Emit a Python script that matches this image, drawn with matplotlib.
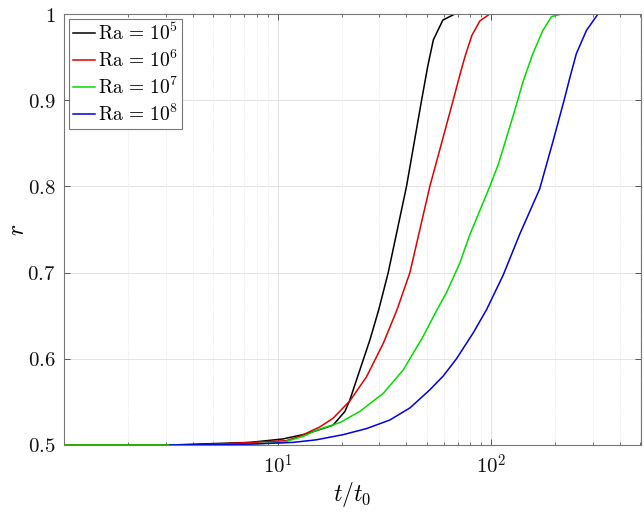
import matplotlib
matplotlib.use("Agg")
import matplotlib.pyplot as plt
import numpy as np
from matplotlib.ticker import LogLocator, NullFormatter, FixedLocator

plt.rcParams['mathtext.fontset'] = 'cm'
plt.rcParams['font.family'] = 'serif'

# values (t/t0, r)
t_ra5 = [1.0, 3.13, 7.43, 10.6, 13.7, 18.2, 20.7, 21.8, 24.3, 27.1, 29.8, 33.0,
         40.2, 47.3, 50.6, 53.7, 59.5, 67.7, 100.0]
r_ra5 = [0.500, 0.500, 0.503, 0.507, 0.513, 0.523, 0.539, 0.552, 0.587, 0.622, 0.657, 0.700,
         0.800, 0.900, 0.940, 0.970, 0.993, 1.000, 1.000]

t_ra6 = [1.0, 4.33, 11.0, 12.7, 15.8, 18.2, 21.8, 26.1, 31.3, 36.3, 41.7, 51.7,
         66.5, 70.7, 75.4, 81.3, 88.7, 98.7, 313.0]
r_ra6 = [0.500, 0.500, 0.505, 0.510, 0.521, 0.531, 0.551, 0.579, 0.618, 0.657, 0.700, 0.800,
         0.900, 0.925, 0.950, 0.975, 0.992, 1.000, 1.000]

t_ra7 = [1.0, 3.13, 7.43, 10.6, 13.2, 15.2, 19.6, 24.3, 31.3, 38.8, 48.1, 55.9, 61.9,
         71.4, 79.6, 91.8, 98.7, 108, 118, 132, 141, 157, 175, 192, 214, 252]
r_ra7 = [0.500, 0.500, 0.501, 0.503, 0.510, 0.517, 0.526, 0.539, 0.560, 0.587, 0.626, 0.657, 0.677,
         0.711, 0.744, 0.781, 0.800, 0.825, 0.856, 0.896, 0.921, 0.954, 0.981, 0.997, 1.000, 1.000]

t_ra8 = [3.13, 7.43, 11.8, 15.2, 20.3, 26.1, 33.6, 41.7, 51.7, 59.7, 68.9, 82.5,
         95.3, 114, 136, 169, 195, 220, 234, 251, 280, 317]
r_ra8 = [0.500, 0.501, 0.503, 0.506, 0.512, 0.519, 0.529, 0.543, 0.564, 0.580, 0.600, 0.630,
         0.657, 0.697, 0.744, 0.797, 0.852, 0.900, 0.926, 0.954, 0.981, 1.000]

labels = [r'$\mathrm{Ra}\,=\,10^{5}$', r'$\mathrm{Ra}\,=\,10^{6}$',
          r'$\mathrm{Ra}\,=\,10^{7}$', r'$\mathrm{Ra}\,=\,10^{8}$']
colors = ['#000000', '#e00000', '#00dd00', '#0000dd']

yticks = [0.5, 0.6, 0.7, 0.8, 0.9, 1.0]
ytick_labels = [r'$0.5$', r'$0.6$', r'$0.7$', r'$0.8$', r'$0.9$', r'$1$']
xticks = [10, 100]
xtick_labels = [r'$10^{1}$', r'$10^{2}$']

fig = plt.figure(figsize=(6.44, 5.21), dpi=100)
ax = fig.add_axes([0.0994, 0.1459, 0.8959, 0.8272])

series = [(t_ra5, r_ra5), (t_ra6, r_ra6), (t_ra7, r_ra7), (t_ra8, r_ra8)]
for (t, r), lab, c in zip(series, labels, colors):
    ax.plot(t, r, color=c, lw=1.1, label=lab)

ax.set_xscale('log')
ax.set_xlim(1, 504)
ax.set_ylim(0.5, 1.0)

ax.xaxis.set_major_locator(FixedLocator(xticks))
ax.set_xticklabels(xtick_labels)
ax.xaxis.set_minor_locator(LogLocator(base=10, subs=np.arange(2, 10)))
ax.xaxis.set_minor_formatter(NullFormatter())
ax.set_yticks(yticks)
ax.set_yticklabels(ytick_labels)

ax.tick_params(which='both', direction='in', top=True, right=True, colors='#555555',
               labelcolor='#111111')
ax.tick_params(which='major', length=4, width=0.7, labelsize=15, pad=6)
ax.tick_params(which='minor', length=2.5, width=0.6)
for s in ax.spines.values():
    s.set_color('#777777')
    s.set_linewidth(0.8)

ax.grid(which='major', color='#e3e3e3', lw=0.7)
ax.grid(which='minor', axis='x', color='#e0e0e0', lw=0.6, ls=':')
ax.set_axisbelow(True)

ax.set_xlabel(r'$t/t_0$', fontsize=17, labelpad=2)
ax.set_ylabel(r'$r$', fontsize=17)
ax.yaxis.set_label_coords(-0.06, 0.5)

leg = ax.legend(loc='upper left', fontsize=14, frameon=True, fancybox=False,
                framealpha=1, edgecolor='#777777', handlelength=1.15,
                handletextpad=0.15, labelspacing=0.3, borderpad=0.2,
                borderaxespad=0.25)
leg.get_frame().set_linewidth(0.8)

fig.savefig('out.png', dpi=100)
